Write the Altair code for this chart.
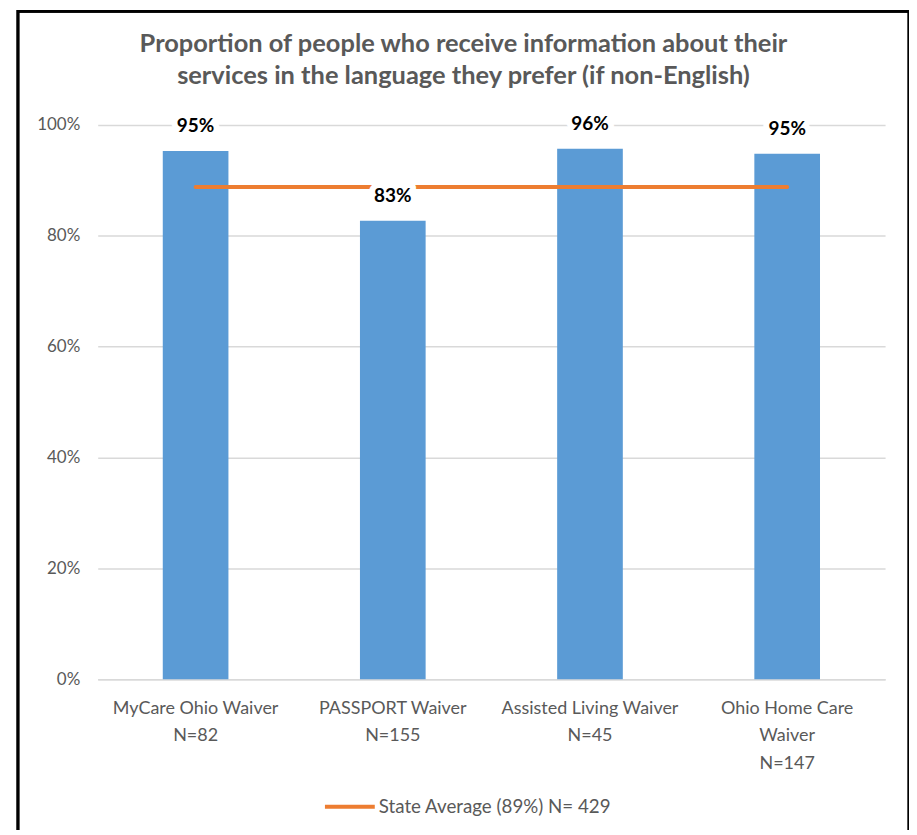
import altair as alt
import pandas as pd

# ---- data ----
programs = ["MyCare Ohio Waiver", "PASSPORT Waiver", "Assisted Living Waiver", "Ohio Home Care|Waiver"]
sample_sizes = [82, 155, 45, 147]
proportions = [0.953, 0.827, 0.957, 0.948]
state_average = 0.888
legend_label = "State Average (89%) N= 429"
y_ticks = [0, 0.2, 0.4, 0.6, 0.8, 1.0]

labels = [f"{p}|N={n}" for p, n in zip(programs, sample_sizes)]
df = pd.DataFrame({
    "program": labels,
    "value": proportions,
    "avg": [state_average] * len(labels),
    "series": [legend_label] * len(labels),
    "text": [f"{round(v * 100)}%" for v in proportions],
})

FONT = "Lato"
GRAY = "#595959"

x_enc = alt.X(
    "program:N", sort=labels, title=None,
    scale=alt.Scale(paddingInner=0.667, paddingOuter=0.33),
    axis=alt.Axis(
        labelExpr="split(datum.label, '|')", labelAngle=0, labelColor=GRAY,
        labelFont=FONT, labelFontSize=18, labelLineHeight=28, labelPadding=20,
        ticks=False, domainColor="#d9d9d9", domainWidth=1.5, labelBaseline="top",
        labelLimit=300,
    ),
)
y_scale = alt.Scale(domain=[0, 1])

bars = alt.Chart(df).mark_bar(color="#5B9BD5").encode(
    x=x_enc,
    y=alt.Y("value:Q", scale=y_scale, title=None,
            axis=alt.Axis(values=y_ticks, format=".0%", labelColor=GRAY, labelFont=FONT,
                          labelFontSize=17, labelPadding=18, ticks=False, domain=False,
                          gridColor="#d9d9d9", gridWidth=1.5)),
)

avg_line = alt.Chart(df).mark_line(strokeWidth=4, strokeCap="round").encode(
    x=alt.X("program:N", sort=labels),
    y=alt.Y("avg:Q", scale=y_scale),
    color=alt.Color("series:N", scale=alt.Scale(range=["#ED7D31"]), title=None,
                    legend=alt.Legend(orient="none", legendX=226, legendY=657,
                                      symbolType="stroke", symbolStrokeWidth=4,
                                      symbolSize=2500, labelFont=FONT, labelFontSize=18.8,
                                      labelColor=GRAY, labelOffset=2, labelLimit=400)),
)

halo = alt.Chart(df).mark_text(
    font=FONT, fontSize=19, fontWeight="bold", dy=-25, baseline="middle",
    stroke="white", strokeWidth=12, strokeJoin="round", color="white",
).encode(x=alt.X("program:N", sort=labels), y=alt.Y("value:Q", scale=y_scale), text="text:N")

value_text = alt.Chart(df).mark_text(
    font=FONT, fontSize=19, fontWeight="bold", dy=-25, baseline="middle", color="black",
).encode(x=alt.X("program:N", sort=labels), y=alt.Y("value:Q", scale=y_scale), text="text:N")

frame = alt.Chart(df).mark_rect(fill=None, stroke="black", strokeWidth=2.5).encode(
    x=alt.value(-80), x2=alt.value(814), y=alt.value(-114), y2=alt.value(720)
)

chart = alt.layer(bars, avg_line, halo, value_text, frame).properties(
    width=790, height=556,
    padding={"left": 90, "top": 116, "right": 24, "bottom": 150},
    autosize=alt.AutoSizeParams(type="none"),
    title=alt.TitleParams(
        ["Proportion of people who receive information about their",
         "services in the language they prefer (if non-English)"],
        font=FONT, fontSize=25.5, fontWeight="bold", color=GRAY, anchor="middle",
        dx=-28, offset=-80, lineHeight=32,
    ),
).configure_view(stroke=None)

chart.save("out.html", embed_options={"renderer": "svg", "actions": False})
